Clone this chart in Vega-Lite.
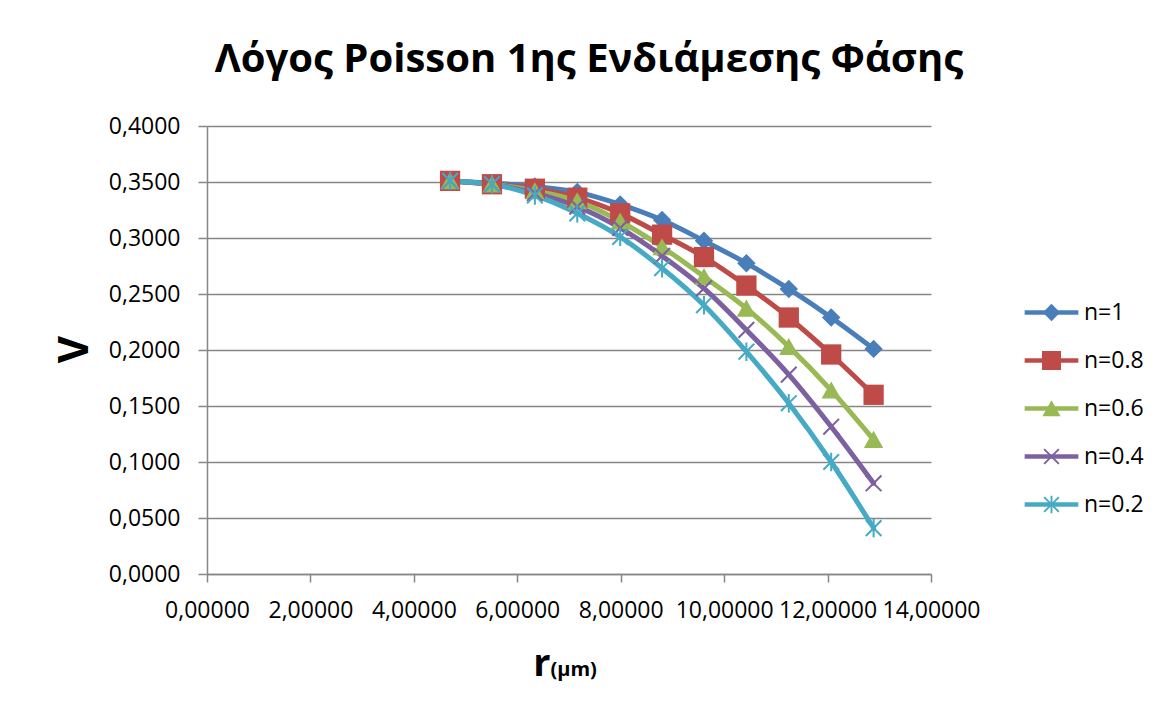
{
  "$schema": "https://vega.github.io/schema/vega-lite/v6.json",
  "width": 724,
  "height": 448,
  "autosize": "none",
  "padding": {"left": 207, "top": 126, "right": 224, "bottom": 142},
  "background": "white",
  "title": {
    "text": "Λόγος Poisson 1ης Ενδιάμεσης Φάσης",
    "font": "Open Sans",
    "fontSize": 40,
    "fontWeight": "bold",
    "color": "#000000",
    "anchor": "middle",
    "dx": 20,
    "baseline": "alphabetic",
    "offset": 3
  },
  "data": {
    "values": [
      {"r": 4.70, "v": 0.351, "n": "n=1"},
      {"r": 5.51, "v": 0.349, "n": "n=1"},
      {"r": 6.34, "v": 0.346, "n": "n=1"},
      {"r": 7.16, "v": 0.341, "n": "n=1"},
      {"r": 7.99, "v": 0.330, "n": "n=1"},
      {"r": 8.80, "v": 0.316, "n": "n=1"},
      {"r": 9.61, "v": 0.2975, "n": "n=1"},
      {"r": 10.43, "v": 0.2775, "n": "n=1"},
      {"r": 11.25, "v": 0.2545, "n": "n=1"},
      {"r": 12.07, "v": 0.229, "n": "n=1"},
      {"r": 12.89, "v": 0.201, "n": "n=1"},
      {"r": 4.70, "v": 0.351, "n": "n=0.8"},
      {"r": 5.51, "v": 0.348, "n": "n=0.8"},
      {"r": 6.34, "v": 0.344, "n": "n=0.8"},
      {"r": 7.16, "v": 0.336, "n": "n=0.8"},
      {"r": 7.99, "v": 0.322, "n": "n=0.8"},
      {"r": 8.80, "v": 0.303, "n": "n=0.8"},
      {"r": 9.61, "v": 0.283, "n": "n=0.8"},
      {"r": 10.43, "v": 0.2575, "n": "n=0.8"},
      {"r": 11.25, "v": 0.229, "n": "n=0.8"},
      {"r": 12.07, "v": 0.196, "n": "n=0.8"},
      {"r": 12.89, "v": 0.160, "n": "n=0.8"},
      {"r": 4.70, "v": 0.351, "n": "n=0.6"},
      {"r": 5.51, "v": 0.348, "n": "n=0.6"},
      {"r": 6.34, "v": 0.342, "n": "n=0.6"},
      {"r": 7.16, "v": 0.333, "n": "n=0.6"},
      {"r": 7.99, "v": 0.315, "n": "n=0.6"},
      {"r": 8.80, "v": 0.292, "n": "n=0.6"},
      {"r": 9.61, "v": 0.2655, "n": "n=0.6"},
      {"r": 10.43, "v": 0.2372, "n": "n=0.6"},
      {"r": 11.25, "v": 0.203, "n": "n=0.6"},
      {"r": 12.07, "v": 0.164, "n": "n=0.6"},
      {"r": 12.89, "v": 0.120, "n": "n=0.6"},
      {"r": 4.70, "v": 0.351, "n": "n=0.4"},
      {"r": 5.51, "v": 0.348, "n": "n=0.4"},
      {"r": 6.34, "v": 0.340, "n": "n=0.4"},
      {"r": 7.16, "v": 0.328, "n": "n=0.4"},
      {"r": 7.99, "v": 0.309, "n": "n=0.4"},
      {"r": 8.80, "v": 0.284, "n": "n=0.4"},
      {"r": 9.61, "v": 0.255, "n": "n=0.4"},
      {"r": 10.43, "v": 0.218, "n": "n=0.4"},
      {"r": 11.25, "v": 0.178, "n": "n=0.4"},
      {"r": 12.07, "v": 0.1315, "n": "n=0.4"},
      {"r": 12.89, "v": 0.081, "n": "n=0.4"},
      {"r": 4.70, "v": 0.351, "n": "n=0.2"},
      {"r": 5.51, "v": 0.348, "n": "n=0.2"},
      {"r": 6.34, "v": 0.338, "n": "n=0.2"},
      {"r": 7.16, "v": 0.322, "n": "n=0.2"},
      {"r": 7.99, "v": 0.301, "n": "n=0.2"},
      {"r": 8.80, "v": 0.273, "n": "n=0.2"},
      {"r": 9.61, "v": 0.240, "n": "n=0.2"},
      {"r": 10.43, "v": 0.1985, "n": "n=0.2"},
      {"r": 11.25, "v": 0.1525, "n": "n=0.2"},
      {"r": 12.07, "v": 0.100, "n": "n=0.2"},
      {"r": 12.89, "v": 0.041, "n": "n=0.2"}
    ]
  },
  "layer": [
    {
      "mark": {"type": "line", "strokeWidth": 5, "interpolate": "monotone", "strokeCap": "round", "strokeJoin": "round"},
      "encoding": {
        "x": {
          "field": "r", "type": "quantitative",
          "scale": {"domain": [0, 14], "nice": false, "zero": false},
          "axis": {
            "values": [0, 2, 4, 6, 8, 10, 12, 14],
            "labelExpr": "replace(format(datum.value, '.5f'), '.', ',')",
            "grid": false,
            "tickSize": 8,
            "labelPadding": 17,
            "title": "r",
            "titleFontSize": 38,
            "titleFontWeight": "bold",
            "titleAlign": "right",
            "titleBaseline": "alphabetic",
            "titleX": 343,
            "titleY": 101
          }
        },
        "y": {
          "field": "v", "type": "quantitative",
          "scale": {"domain": [0, 0.4], "nice": false, "zero": false},
          "axis": {
            "values": [0, 0.05, 0.1, 0.15, 0.2, 0.25, 0.3, 0.35, 0.4],
            "labelExpr": "replace(format(datum.value, '.4f'), '.', ',')",
            "grid": true,
            "tickSize": 9,
            "labelPadding": 18,
            "title": "V",
            "titleFontSize": 42,
            "titleFontWeight": "bold",
            "titleAngle": -90,
            "titleAlign": "center",
            "titleBaseline": "alphabetic",
            "titleX": -120,
            "titleY": 223
          }
        },
        "stroke": {
          "field": "n", "type": "nominal", "title": null,
          "sort": ["n=1", "n=0.8", "n=0.6", "n=0.4", "n=0.2"],
          "scale": {"range": ["#4A7EBB", "#BE4B48", "#98B954", "#7D60A0", "#46AAC5"]},
          "legend": {
            "orient": "none", "legendX": 833, "legendY": 175,
            "symbolType": "M-3.1,0H3.1",
            "symbolSize": 300, "symbolStrokeWidth": 4.5, "labelOffset": 21, "rowPadding": 24,
            "labelFontSize": 23, "labelFont": "Open Sans", "labelColor": "#000000", "labelOpacity": 0, "padding": 0
          }
        }
      }
    },
    {
      "mark": {"type": "point", "filled": true, "opacity": 1, "strokeWidth": 0, "size": 340},
      "encoding": {
        "x": {
          "field": "r", "type": "quantitative",
          "axis": {
            "orient": "bottom",
            "labels": false,
            "ticks": false,
            "domain": false,
            "grid": false,
            "title": "(μm)",
            "titleFontSize": 20,
            "titleFontWeight": "bold",
            "titleAlign": "left",
            "titleBaseline": "alphabetic",
            "titleX": 343,
            "titleY": 101
          }
        },
        "y": {"field": "v", "type": "quantitative"},
        "fill": {
          "field": "n", "type": "nominal", "title": null,
          "scale": {"domain": ["n=1", "n=0.8", "n=0.6", "n=0.4", "n=0.2"], "range": ["#4A7EBB", "#BE4B48", "#98B954", "#7D60A0", "#46AAC5"]},
          "legend": {
            "orient": "none", "legendX": 833, "legendY": 175,
            "symbolSize": 300, "symbolStrokeWidth": 0, "labelOffset": 21, "rowPadding": 24,
            "labelFontSize": 23, "labelFont": "Open Sans", "labelColor": "#000000", "padding": 0
          }
        },
        "shape": {
          "field": "n", "type": "nominal", "title": null,
          "scale": {"domain": ["n=1", "n=0.8", "n=0.6", "n=0.4", "n=0.2"], "range": [
            "M0,-1L1,0L0,1L-1,0Z",
            "M-1.1,-1.1H1.1V1.1H-1.1Z",
            "M0,-0.95L1.05,0.9L-1.05,0.9Z",
            "M-0.772,-0.928L0.928,0.772L0.772,0.928L-0.928,-0.772ZM-0.772,0.928L-0.928,0.772L0.772,-0.928L0.928,-0.772Z",
            "M-0.772,-0.928L0.928,0.772L0.772,0.928L-0.928,-0.772ZM-0.772,0.928L-0.928,0.772L0.772,-0.928L0.928,-0.772ZM-0.11,-1H0.11V1H-0.11Z"
          ]},
          "legend": {
            "orient": "none", "legendX": 833, "legendY": 175,
            "symbolSize": 300, "symbolStrokeWidth": 0, "labelOffset": 21, "rowPadding": 24,
            "labelFontSize": 23, "labelFont": "Open Sans", "labelColor": "#000000", "padding": 0
          }
        }
      }
    }
  ],
  "resolve": {"axis": {"x": "independent"}},
  "config": {
    "view": {"stroke": null},
    "font": "Open Sans",
    "axis": {
      "labelFont": "Open Sans",
      "labelFontSize": 23,
      "labelColor": "#000000",
      "titleFont": "Open Sans",
      "titleColor": "#000000",
      "domainColor": "#868686",
      "domainWidth": 1.5,
      "tickColor": "#868686",
      "tickWidth": 1.5,
      "gridColor": "#868686",
      "gridWidth": 1.5,
      "labelFlush": false,
      "labelOverlap": false
    }
  }
}
